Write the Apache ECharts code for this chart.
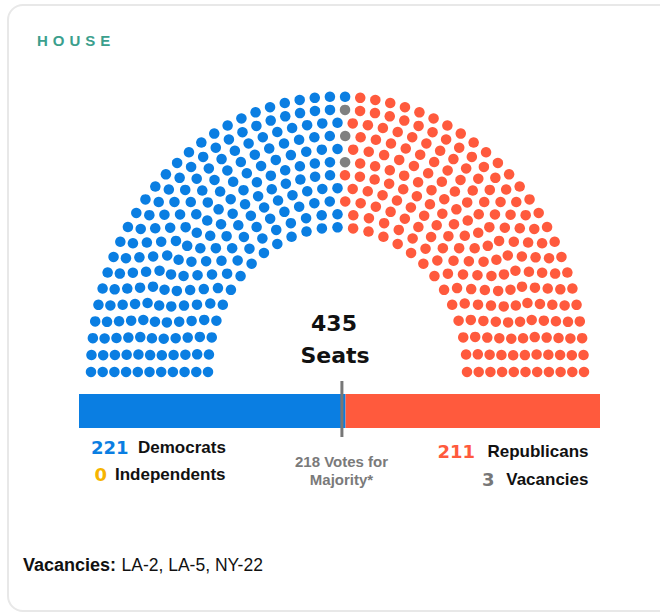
<!DOCTYPE html>
<html><head><meta charset="utf-8">
<script src="https://cdn.jsdelivr.net/npm/echarts@6/dist/echarts.min.js"></script>
<style>html,body{margin:0;padding:0;background:#fff}#c{width:660px;height:614px}</style>
</head><body><div id="c"></div>
<script>
// ---- data ----
const chamberTitle = 'HOUSE';
const parties = ['Democrats', 'Independents', 'Vacancies', 'Republicans'];
const seatCounts = [221, 0, 3, 211];
const barParties = ['Democrats', 'Independents', 'Republicans'];
const barCounts = [221, 0, 211];
const rowSeats = [27, 29, 32, 35, 38, 40, 41, 44, 47, 50, 52]; // inner -> outer
const majority = 218;
const vacancyList = ['LA-2', 'LA-5', 'NY-22'];

// ---- styles ----
const colors = { Democrats: '#0a7ee2', Independents: '#f6b400', Vacancies: '#808080', Republicans: '#ff5a3d' };
const SANS = "'Liberation Sans', Arial, Helvetica, sans-serif";
const WIDE = "'DejaVu Sans', Verdana, sans-serif";

const totalSeats = seatCounts.reduce((a, b) => a + b, 0);
const barTotal = barCounts.reduce((a, b) => a + b, 0);

// ---- hemicycle layout (rows of seats on concentric arcs, ordered by angle) ----
const R_IN = 0.5254, R_STEP = 0.04746;
const allSeats = [];
rowSeats.forEach((n, i) => {
  const r = R_IN + R_STEP * i;
  for (let j = 0; j < n; j++) {
    const th = Math.PI - Math.PI * j / (n - 1);
    allSeats.push({ r, th });
  }
});
allSeats.sort((a, b) => (b.th - a.th) || (b.r - a.r));
const partySeats = parties.map(() => []);
let k = 0;
seatCounts.forEach((c, pi) => {
  for (let s = 0; s < c; s++, k++) {
    const st = allSeats[k];
    partySeats[pi].push([st.r * Math.cos(st.th), st.r * Math.sin(st.th)]);
  }
});

const chart = echarts.init(document.getElementById('c'), null, { renderer: 'svg' });

function txt(text, x, y, opts) {
  return {
    type: 'text', x, y, silent: true,
    style: Object.assign({ text, textVerticalAlign: 'middle', verticalAlign: 'middle', fill: '#111', fontWeight: 'bold', fontFamily: SANS, fontSize: 17 }, opts)
  };
}

const option = {
  animation: false,
  backgroundColor: '#fff',
  grid: [
    { left: 66.35, top: 82.93, width: 542.3, height: 289.07 },
    { left: 79, top: 394, width: 521, height: 34 }
  ],
  xAxis: [
    { gridIndex: 0, type: 'value', min: -1.1, max: 1.1, show: false },
    { gridIndex: 1, type: 'value', min: 0, max: barTotal, show: false }
  ],
  yAxis: [
    { gridIndex: 0, type: 'value', min: 0, max: 1.05, show: false },
    { gridIndex: 1, type: 'category', data: ['House'], show: false }
  ],
  series: [
    ...parties.map((p, i) => ({
      name: p, type: 'scatter', xAxisIndex: 0, yAxisIndex: 0,
      data: partySeats[i], symbol: 'circle', symbolSize: 10.5, silent: true,
      itemStyle: { color: colors[p], opacity: 1 }
    })),
    ...barParties.map((p, i) => ({
      name: p + ' bar', type: 'bar', xAxisIndex: 1, yAxisIndex: 1, stack: 'total',
      data: [barCounts[i]], barWidth: 34, silent: true,
      itemStyle: { color: colors[p] }
    })),
    {
      type: 'custom', xAxisIndex: 1, yAxisIndex: 1, z: 10, silent: true,
      data: [[majority, 0]], encode: { x: 0, y: 1 },
      renderItem: (params, api) => {
        const p = api.coord([api.value(0), 0]);
        return { type: 'line', shape: { x1: p[0], y1: p[1] - 30, x2: p[0], y2: p[1] + 26 }, style: { stroke: '#777', lineWidth: 3 } };
      }
    }
  ],
  graphic: [
    { type: 'rect', silent: true, shape: { x: 8, y: 5, width: 700, height: 606, r: 15 }, style: { fill: 'none', stroke: '#e8e8e8', lineWidth: 2 } },
    txt(chamberTitle, 37, 40, { fill: '#3b9f8d', fontSize: 15 }),
    txt(String(totalSeats), 334, 323.5, { fontFamily: WIDE, fontSize: 22, textAlign: 'center', align: 'center' }),
    txt('Seats', 335, 355, { fontFamily: WIDE, fontSize: 22, textAlign: 'center', align: 'center' }),
    txt(String(seatCounts[0]), 91, 447, { fontFamily: WIDE, fontSize: 18, fill: colors.Democrats }),
    txt(parties[0], 138, 447),
    txt(String(seatCounts[1]), 94.5, 474, { fontFamily: WIDE, fontSize: 18, fill: colors.Independents }),
    txt(parties[1], 115, 474),
    txt(String(seatCounts[3]), 475, 451.5, { fontFamily: WIDE, fontSize: 18, fill: colors.Republicans, textAlign: 'right', align: 'right' }),
    txt(parties[3], 588.5, 451.5, { textAlign: 'right', align: 'right' }),
    txt(String(seatCounts[2]), 494.5, 479.5, { fontFamily: WIDE, fontSize: 18, fill: '#777', textAlign: 'right', align: 'right' }),
    txt(parties[2], 588.5, 479.5, { textAlign: 'right', align: 'right' }),
    txt(majority + ' Votes for', 341.5, 461.5, { fontSize: 15, fill: '#7a7a7a', textAlign: 'center', align: 'center' }),
    txt('Majority*', 341.5, 479, { fontSize: 15, fill: '#7a7a7a', textAlign: 'center', align: 'center' }),
    txt('Vacancies:', 23, 565, { fontSize: 18 }),
    txt(vacancyList.join(', '), 121.5, 565, { fontSize: 17.5, fontWeight: 'normal' })
  ]
};
chart.setOption(option);

function spaceTitle() {
  document.querySelectorAll('#c svg text').forEach(t => {
    if (t.textContent === chamberTitle) { t.setAttribute('letter-spacing', '5'); t.style.letterSpacing = '5px'; }
  });
}
spaceTitle();
chart.on('finished', spaceTitle);
setTimeout(spaceTitle, 0);
</script>
</body></html>
